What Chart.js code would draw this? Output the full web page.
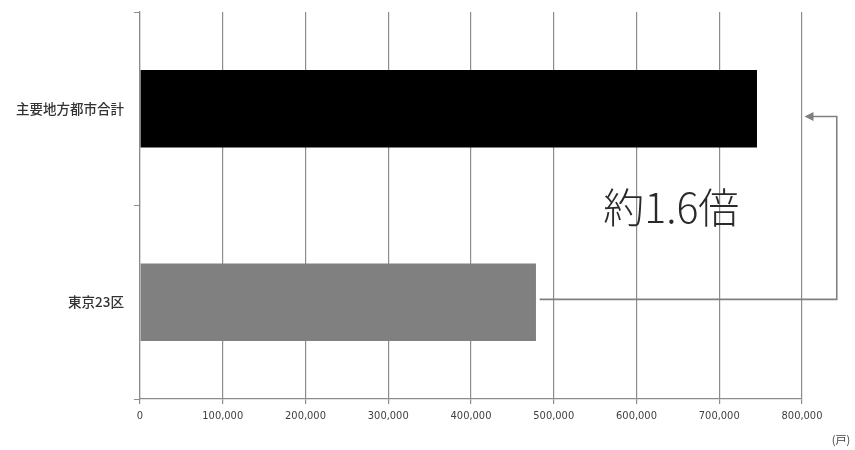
<!DOCTYPE html>
<html>
<head>
<meta charset="utf-8">
<script src="https://cdn.jsdelivr.net/npm/chart.js@4/dist/chart.umd.min.js"></script>
<style>
html,body{margin:0;padding:0;background:#fff;}
#wrap{width:855px;height:450px;position:relative;}
</style>
</head>
<body>
<div id="wrap"><canvas id="c" width="855" height="450"></canvas></div>
<script>
const categories = ['主要地方都市合計', '東京23区'];
const values = [745600, 478500];
const barColors = ['#000000', '#808080'];
const xTicksMax = 800000;
const xTickStep = 100000;
const unitLabel = '(戸)';
const ratioLabel = '約1.6倍';
const ratioTextAt = [642000, 0.5];     // [x value, category index]
const arrowRightX = 842000;            // x value of arrow's vertical segment
const arrowTipX = 803000;              // x value of arrow head
const arrowStartX = 483000;            // x value where arrow line starts
const arrowYs = [0.04, 0.985];         // category index positions (top, bottom)

const annot = {
  id: 'annot',
  afterDatasetsDraw(chart) {
    const ctx = chart.ctx, xs = chart.scales.x, ys = chart.scales.y;
    const xr = xs.getPixelForValue(arrowRightX);
    const xt = xs.getPixelForValue(arrowTipX);
    const x0 = xs.getPixelForValue(arrowStartX);
    const yTop = ys.getPixelForValue(arrowYs[0]);
    const yBot = ys.getPixelForValue(arrowYs[1]);
    ctx.save();
    ctx.strokeStyle = '#808080';
    ctx.fillStyle = '#808080';
    ctx.lineWidth = 1.6;
    ctx.beginPath();
    ctx.moveTo(x0, yBot);
    ctx.lineTo(xr, yBot);
    ctx.lineTo(xr, yTop);
    ctx.lineTo(xt + 7, yTop);
    ctx.stroke();
    ctx.beginPath();
    ctx.moveTo(xt, yTop);
    ctx.lineTo(xt + 9, yTop - 4.5);
    ctx.lineTo(xt + 9, yTop + 4.5);
    ctx.closePath();
    ctx.fill();
    // ratio text
    ctx.fillStyle = '#2a2a2a';
    ctx.font = '300 41px "Noto Sans CJK JP", sans-serif';
    ctx.textAlign = 'center';
    ctx.textBaseline = 'middle';
    ctx.fillText(ratioLabel, xs.getPixelForValue(ratioTextAt[0]), ys.getPixelForValue(ratioTextAt[1]) + 2);
    // unit
    ctx.fillStyle = '#404040';
    ctx.font = '11px "Noto Sans CJK JP", sans-serif';
    ctx.textAlign = 'center';
    ctx.fillText(unitLabel, 841, 440);
    ctx.restore();
  }
};

new Chart(document.getElementById('c'), {
  type: 'bar',
  data: {
    labels: categories,
    datasets: [{
      data: values,
      backgroundColor: barColors,
      borderWidth: 0,
      barPercentage: 0.8,
      categoryPercentage: 0.5
    }]
  },
  options: {
    indexAxis: 'y',
    responsive: false,
    animation: false,
    devicePixelRatio: 1,
    layout: { padding: { top: 12, right: 53, left: 0, bottom: 0 } },
    plugins: { legend: { display: false }, tooltip: { enabled: false } },
    scales: {
      x: {
        min: 0, max: xTicksMax,
        ticks: {
          stepSize: xTickStep,
          color: '#404040',
          font: { family: '"DejaVu Sans Condensed", "DejaVu Sans", sans-serif', size: 11 },
          padding: 6,
          maxRotation: 0,
          callback: v => v.toLocaleString('en-US')
        },
        grid: { color: '#8c8c8c', lineWidth: 1.2, tickLength: 5, drawTicks: true },
        border: { color: '#8c8c8c', width: 1.2 },
        afterFit: s => { s.height = 51; }
      },
      y: {
        ticks: {
          color: '#333333',
          font: { family: '"Noto Sans CJK JP", sans-serif', size: 13.5, weight: '500' },
          padding: 10
        },
        grid: { drawOnChartArea: false, drawTicks: true, tickLength: 6, color: '#8c8c8c', offset: true },
        border: { color: '#8c8c8c', width: 1.2 },
        afterFit: s => { s.width = 140; s.paddingTop = 0; s.paddingBottom = 0; }
      }
    }
  },
  plugins: [annot]
});
</script>
</body>
</html>
